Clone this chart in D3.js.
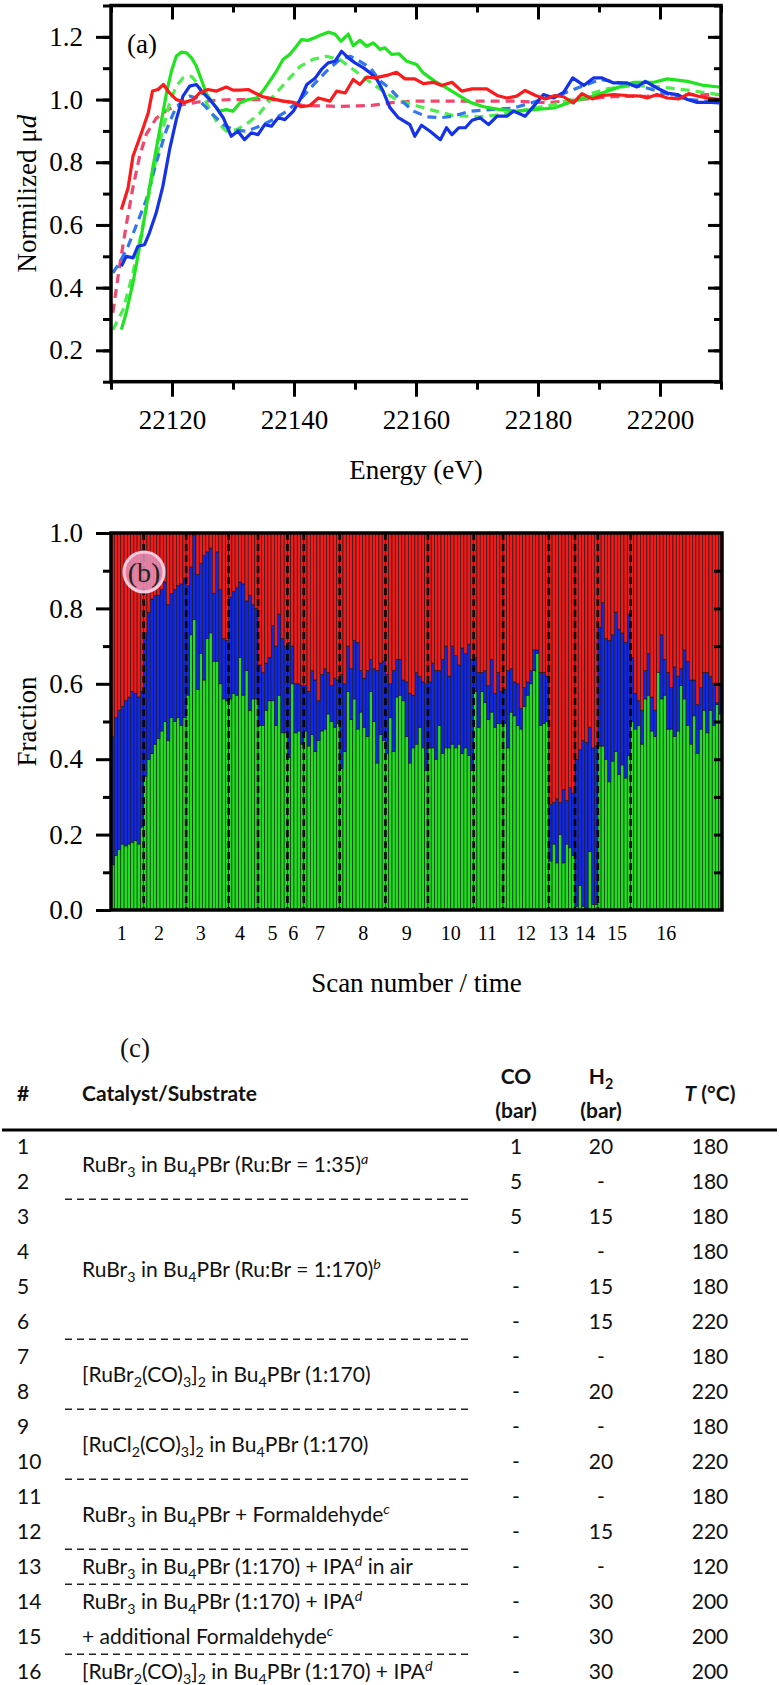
<!DOCTYPE html>
<html>
<head>
<meta charset="utf-8">
<script src="https://cdn.jsdelivr.net/npm/d3@7"></script>
<style>
  body { margin: 0; background: #fff; }
  svg { display: block; }
</style>
</head>
<body>
<div id="fig"></div>
<script>
// ---------- panel (a): normalised XANES, [energy eV, mu d]
const redDash = [[22110.3,0.32],[22111.4,0.468],[22112.5,0.6],[22113.6,0.72],[22114.7,0.82],[22115.8,0.89],[22117.4,0.94],[22119.1,0.965],[22120.7,0.98],[22122.9,0.987],[22124.5,0.993],[22127.3,0.998],[22130.0,1.0],[22133.3,1.0],[22136.6,1.0],[22139.0,0.993],[22141.5,0.981],[22144.5,0.98],[22147.5,0.978],[22150.5,0.98],[22153.0,0.982],[22156.0,0.99],[22159.6,0.995],[22165.0,0.995],[22170.0,0.995],[22176.0,0.995],[22181.5,0.99],[22186.9,1.0],[22192.4,1.009],[22197.9,1.011],[22203.4,1.016],[22209.7,1.016]];
const greenDash = [[22110.3,0.266],[22112.0,0.33],[22113.6,0.447],[22115.2,0.596],[22116.9,0.766],[22118.5,0.904],[22119.6,0.989],[22120.7,1.043],[22121.8,1.069],[22123.2,1.074],[22124.3,1.048],[22125.1,1.011],[22126.2,0.968],[22127.3,0.931],[22128.9,0.899],[22130.6,0.904],[22132.5,0.926],[22134.4,0.957],[22136.6,1.011],[22138.8,1.058],[22141.0,1.106],[22143.1,1.128],[22145.3,1.138],[22147.5,1.128],[22149.7,1.096],[22151.9,1.064],[22154.6,1.027],[22156.8,1.0],[22158.5,0.989],[22162.3,0.968],[22166.1,0.949],[22170.5,0.945],[22173.8,0.952],[22178.2,0.968],[22182.6,0.984],[22186.9,1.009],[22191.3,1.034],[22195.7,1.045],[22200.1,1.04],[22204.5,1.03],[22209.7,1.016]];
const blueDash = [[22110.3,0.447],[22111.4,0.479],[22112.8,0.532],[22114.1,0.596],[22115.8,0.681],[22117.4,0.798],[22119.1,0.904],[22120.5,0.968],[22121.8,1.0],[22122.9,1.011],[22124.0,1.005],[22125.4,0.979],[22126.7,0.952],[22128.4,0.92],[22130.0,0.904],[22132.2,0.899],[22134.4,0.915],[22136.6,0.936],[22138.8,0.963],[22141.0,1.0],[22143.1,1.045],[22145.3,1.09],[22147.5,1.128],[22149.2,1.138],[22150.8,1.122],[22152.5,1.101],[22154.1,1.06],[22155.7,1.035],[22157.4,1.0],[22159.6,0.963],[22161.8,0.945],[22164.0,0.942],[22166.1,0.947],[22168.9,0.963],[22172.2,0.968],[22176.0,0.973],[22179.8,0.995],[22183.7,1.016],[22186.9,1.04],[22190.2,1.064],[22193.5,1.053],[22197.3,1.04],[22200.6,1.021],[22204.5,1.0],[22207.7,0.995],[22209.7,0.995]];
const greenSolid = [[22111.7,0.266],[22112.5,0.32],[22113.6,0.415],[22114.7,0.532],[22115.8,0.66],[22116.9,0.787],[22118.0,0.904],[22119.1,1.021],[22119.9,1.09],[22120.7,1.138],[22121.5,1.151],[22122.4,1.149],[22123.2,1.133],[22124.0,1.106],[22124.8,1.064],[22125.7,1.016],[22126.7,0.989],[22127.8,0.963],[22128.9,0.968],[22130.0,0.963],[22131.1,0.989],[22132.5,1.0],[22133.9,1.005],[22134.9,1.027],[22136.0,1.058],[22137.1,1.09],[22138.2,1.128],[22139.3,1.144],[22140.4,1.17],[22141.2,1.191],[22142.3,1.189],[22143.4,1.197],[22144.5,1.207],[22145.6,1.215],[22146.7,1.209],[22147.7,1.186],[22148.9,1.209],[22149.7,1.172],[22150.8,1.189],[22151.9,1.17],[22153.0,1.181],[22154.1,1.16],[22154.9,1.165],[22156.0,1.144],[22157.2,1.146],[22158.5,1.122],[22160.1,1.112],[22161.2,1.085],[22163.1,1.058],[22165.0,1.037],[22167.2,1.011],[22168.9,0.991],[22171.1,0.977],[22173.8,0.968],[22176.5,0.963],[22179.3,0.968],[22182.6,0.973],[22185.8,0.995],[22189.1,1.011],[22192.4,1.034],[22195.7,1.055],[22199.0,1.055],[22201.2,1.066],[22204.5,1.058],[22207.2,1.045],[22209.7,1.04]];
const blueSolid = [[22111.7,0.468],[22112.5,0.5],[22113.6,0.495],[22114.4,0.532],[22115.5,0.537],[22116.3,0.575],[22117.4,0.638],[22118.5,0.723],[22119.6,0.84],[22120.7,0.936],[22121.8,1.011],[22122.9,1.043],[22124.0,1.048],[22125.1,1.021],[22126.2,1.0],[22127.3,0.973],[22128.4,0.942],[22129.7,0.883],[22130.8,0.899],[22131.9,0.872],[22133.0,0.894],[22134.1,0.888],[22135.2,0.92],[22136.3,0.915],[22137.4,0.942],[22138.5,0.936],[22139.9,0.963],[22141.0,1.0],[22142.1,1.048],[22143.5,1.069],[22144.5,1.096],[22145.6,1.117],[22146.7,1.122],[22147.8,1.154],[22148.9,1.133],[22150.0,1.117],[22151.4,1.101],[22152.5,1.085],[22153.6,1.064],[22154.6,1.027],[22155.7,0.975],[22157.1,0.942],[22159.0,0.92],[22159.8,0.883],[22160.9,0.918],[22162.3,0.899],[22164.0,0.872],[22165.0,0.91],[22165.9,0.888],[22167.0,0.91],[22168.1,0.91],[22169.2,0.934],[22170.5,0.942],[22171.9,0.92],[22173.3,0.947],[22174.9,0.947],[22176.0,0.963],[22177.9,0.947],[22179.3,0.979],[22180.9,1.016],[22182.6,1.005],[22184.2,1.023],[22185.7,1.069],[22187.5,1.045],[22189.1,1.069],[22190.5,1.069],[22192.4,1.053],[22194.6,1.053],[22196.2,1.04],[22197.6,1.058],[22199.5,1.037],[22201.2,1.021],[22202.8,1.016],[22204.5,1.0],[22206.1,0.991],[22208.3,0.991],[22209.7,0.989]];
const redSolid = [[22111.7,0.649],[22112.8,0.718],[22113.6,0.819],[22115.0,0.894],[22116.1,0.957],[22116.8,1.027],[22117.7,1.032],[22118.6,1.048],[22119.6,1.021],[22120.7,1.0],[22122.1,0.991],[22123.5,1.0],[22124.5,1.021],[22125.9,1.032],[22127.3,1.027],[22128.9,1.04],[22130.0,1.03],[22131.1,1.03],[22132.5,1.032],[22133.6,1.021],[22134.9,1.009],[22136.6,1.002],[22138.2,0.995],[22139.9,0.991],[22141.2,0.977],[22142.6,0.981],[22144.0,1.005],[22145.9,0.995],[22147.0,1.027],[22148.4,1.021],[22149.7,1.064],[22150.8,1.048],[22151.9,1.072],[22153.3,1.069],[22155.2,1.077],[22156.8,1.087],[22158.2,1.066],[22159.8,1.066],[22161.2,1.051],[22162.9,1.055],[22164.2,1.045],[22165.9,1.055],[22167.5,1.027],[22169.2,1.034],[22171.6,1.034],[22173.3,1.013],[22174.9,1.005],[22176.5,1.011],[22177.9,1.029],[22179.6,1.013],[22181.2,1.002],[22182.8,1.013],[22184.2,1.009],[22185.8,0.989],[22187.2,1.019],[22188.9,1.002],[22190.5,1.013],[22192.4,1.016],[22194.6,1.013],[22196.8,1.011],[22197.9,1.005],[22199.5,1.016],[22201.2,1.005],[22203.1,1.002],[22204.7,1.019],[22206.6,1.009],[22209.7,1.0]];

const energyTicks = [22120, 22140, 22160, 22180, 22200];
const muTicks = [0.2, 0.4, 0.6, 0.8, 1.0, 1.2];

// ---------- panel (b): fractions per scan (green bottom, blue middle, red rest)
const scanBars = [10, 13, 13, 9, 9, 5, 11, 14, 13, 14, 9, 14, 8, 7, 10, 28];
const scanTickAt = [3.3, 14.7, 27.5, 39.5, 49.4, 55.8, 64, 77.2, 90.5, 104, 115.2, 127, 136.9, 145.1, 154.9, 169.9];
const green = [
  0.12, 0.145, 0.16, 0.175, 0.17, 0.175, 0.18, 0.185, 0.175, 0.22,
  0.355, 0.40, 0.415, 0.44, 0.455, 0.475, 0.50, 0.45, 0.51, 0.50, 0.51, 0.49, 0.51,
  0.57, 0.73, 0.77, 0.585, 0.68, 0.61, 0.72, 0.735, 0.66, 0.66, 0.60, 0.56, 0.555,
  0.56, 0.575, 0.57, 0.67, 0.57, 0.635, 0.53, 0.56, 0.56,
  0.49, 0.49, 0.53, 0.555, 0.555, 0.49, 0.57, 0.47, 0.47,
  0.405, 0.60, 0.47, 0.475, 0.44,
  0.475, 0.435, 0.465, 0.42, 0.45, 0.475, 0.48, 0.52, 0.50, 0.485, 0.495,
  0.375, 0.42, 0.58, 0.505, 0.56, 0.48, 0.525, 0.485, 0.46, 0.58, 0.50, 0.39, 0.465, 0.45,
  0.415, 0.51, 0.42, 0.565, 0.57, 0.555, 0.46, 0.39, 0.43, 0.44, 0.485, 0.43, 0.37,
  0.43, 0.43, 0.40, 0.49, 0.415, 0.43, 0.43, 0.44, 0.43, 0.44, 0.415, 0.43, 0.41, 0.37,
  0.58, 0.485, 0.58, 0.55, 0.505, 0.525, 0.485, 0.495, 0.495,
  0.495, 0.43, 0.525, 0.515, 0.49, 0.48, 0.54, 0.57, 0.60, 0.635, 0.68, 0.49, 0.495, 0.50,
  0.13, 0.175, 0.125, 0.2, 0.125, 0.175, 0.165, 0.145,
  0.01, 0.065, 0.01, 0.005, 0.155, 0.015, 0.015,
  0.435, 0.435, 0.40, 0.34, 0.395, 0.42, 0.36, 0.385, 0.35, 0.41,
  0.50, 0.48, 0.49, 0.44, 0.56, 0.57, 0.475, 0.46, 0.64, 0.56, 0.57, 0.48, 0.48, 0.46,
  0.475, 0.595, 0.56, 0.49, 0.44, 0.515, 0.415, 0.48, 0.53, 0.47, 0.53, 0.49, 0.545, 0.52
];
// top of the blue band (green + blue)
const blueTop = [
  0.46, 0.51, 0.53, 0.54, 0.555, 0.565, 0.58, 0.575, 0.565, 0.58,
  0.735, 0.79, 0.825, 0.835, 0.835, 0.85, 0.87, 0.81, 0.84, 0.85, 0.86, 0.865, 0.88,
  0.86, 0.91, 0.995, 0.89, 0.92, 0.94, 0.95, 0.96, 0.84, 0.95, 0.85, 0.72, 0.715,
  0.83, 0.845, 0.855, 0.87, 0.865, 0.82, 0.835, 0.81, 0.80,
  0.65, 0.63, 0.655, 0.67, 0.755, 0.70, 0.785, 0.72, 0.70,
  0.71, 0.70, 0.60, 0.60, 0.595,
  0.595, 0.58, 0.635, 0.61, 0.555, 0.625, 0.64, 0.63, 0.595, 0.615, 0.61,
  0.625, 0.60, 0.70, 0.64, 0.715, 0.71, 0.635, 0.615, 0.635, 0.665, 0.64, 0.635, 0.655, 0.66,
  0.625, 0.60, 0.635, 0.665, 0.665, 0.61, 0.605, 0.575, 0.57, 0.63, 0.62, 0.605, 0.60,
  0.605, 0.655, 0.635, 0.635, 0.665, 0.70, 0.62, 0.70, 0.675, 0.65, 0.695, 0.68, 0.705, 0.665,
  0.67, 0.63, 0.63, 0.635, 0.595, 0.665, 0.575, 0.63, 0.58,
  0.585, 0.635, 0.64, 0.605, 0.60, 0.535, 0.59, 0.605, 0.635, 0.69, 0.69, 0.63, 0.63, 0.62,
  0.28, 0.285, 0.295, 0.285, 0.32, 0.29, 0.325, 0.31,
  0.40, 0.425, 0.45, 0.445, 0.485, 0.43, 0.435,
  0.75, 0.815, 0.72, 0.715, 0.73, 0.79, 0.745, 0.735, 0.71, 0.785,
  0.67, 0.575, 0.555, 0.53, 0.635, 0.68, 0.565, 0.53, 0.63, 0.73, 0.665, 0.63, 0.59, 0.645,
  0.62, 0.64, 0.69, 0.66, 0.61, 0.61, 0.545, 0.59, 0.63, 0.63, 0.62, 0.60, 0.55, 0.60
];
const fracTicks = [0, 0.2, 0.4, 0.6, 0.8, 1.0];

// ---------- panel (c): table
const runNo = d3.range(1, 17);
const coBar = ["1", "5", "5", "-", "-", "-", "-", "-", "-", "-", "-", "-", "-", "-", "-", "-"];
const h2Bar = ["20", "-", "15", "-", "15", "15", "-", "20", "-", "20", "-", "15", "-", "30", "30", "30"];
const tempC = ["180", "180", "180", "180", "180", "220", "180", "220", "180", "220", "180", "220", "120", "200", "200", "200"];
const catalysts = [
  {text: "RuBr_3 in Bu_4PBr (Ru:Br = 1:35)^a", from: 1, to: 2},
  {text: "RuBr_3 in Bu_4PBr (Ru:Br = 1:170)^b", from: 3, to: 6},
  {text: "[RuBr_2(CO)_3]_2 in Bu_4PBr (1:170)", from: 7, to: 8},
  {text: "[RuCl_2(CO)_3]_2 in Bu_4PBr (1:170)", from: 9, to: 10},
  {text: "RuBr_3 in Bu_4PBr + Formaldehyde^c", from: 11, to: 12},
  {text: "RuBr_3 in Bu_4PBr (1:170) + IPA^d in air", from: 13, to: 13},
  {text: "RuBr_3 in Bu_4PBr (1:170) + IPA^d", from: 14, to: 14},
  {text: "+ additional Formaldehyde^c", from: 15, to: 15},
  {text: "[RuBr_2(CO)_3]_2 in Bu_4PBr (1:170) + IPA^d", from: 16, to: 16}
];
const dividerAfter = [2, 6, 8, 10, 12, 13, 15];

// ---------------------------------------------------------------
const width = 779, height = 1685;
const serif = "'Liberation Serif', 'Times New Roman', serif";
const sans = "Lato, 'Open Sans', sans-serif";

const svg = d3.select("#fig").append("svg")
    .attr("width", width)
    .attr("height", height);

// style an axis group: no domain, thick black ticks, serif labels
function styleAxis(g, withText) {
  g.select(".domain").remove();
  g.selectAll(".tick line").attr("stroke", "#000").attr("stroke-width", 3);
  if (withText) {
    g.attr("font-family", serif).attr("font-size", 27);
    g.selectAll(".tick text")
      .attr("font-family", serif)
      .attr("font-size", 27)
      .attr("fill", "#000");
  } else {
    g.selectAll(".tick text").remove();
  }
}

// ================= panel (a) =================
const pa = {left: 111, right: 721, top: 5.5, bottom: 381.7};
const xA = d3.scaleLinear().domain([22110, 22210]).range([pa.left, pa.right]);
const yA = d3.scaleLinear().domain([0.1, 1.3]).range([pa.bottom, pa.top]);

const gA = svg.append("g");

let lineA = d3.line()
    .x(d => xA(d[0]))
    .y(d => yA(d[1]));

const curves = [
  {data: redDash, color: "#f2466e", dash: "9,6"},
  {data: greenDash, color: "#4ced4c", dash: "9,6"},
  {data: blueDash, color: "#3277ee", dash: "9,6"},
  {data: greenSolid, color: "#1fe41f", dash: null},
  {data: blueSolid, color: "#1432e8", dash: null},
  {data: redSolid, color: "#fa1c1c", dash: null}
];

gA.selectAll("path.curve")
  .data(curves)
  .enter()
  .append("path")
    .attr("class", "curve")
    .attr("d", d => lineA(d.data))
    .attr("fill", "none")
    .attr("stroke", d => d.color)
    .attr("stroke-width", 3.2)
    .attr("stroke-linejoin", "round")
    .attr("stroke-dasharray", d => d.dash);

// ticks: bottom (outward), top (inward), left (outward), right (inward)
const minorE = d3.range(22110, 22211, 10);
const minorMu = d3.range(1, 14).map(v => v / 10);

gA.append("g").attr("transform", `translate(0,${pa.bottom})`)
  .call(d3.axisBottom(xA).tickValues(minorE).tickSize(8).tickFormat(""))
  .call(g => styleAxis(g, false));
gA.append("g").attr("transform", `translate(0,${pa.bottom})`)
  .call(d3.axisBottom(xA).tickValues(energyTicks).tickSize(15).tickPadding(13).tickFormat(d3.format("d")))
  .call(g => styleAxis(g, true));
gA.append("g").attr("transform", `translate(0,${pa.top})`)
  .call(d3.axisTop(xA).tickValues(minorE).tickSize(-7).tickFormat(""))
  .call(g => styleAxis(g, false));
gA.append("g").attr("transform", `translate(0,${pa.top})`)
  .call(d3.axisTop(xA).tickValues(energyTicks).tickSize(-14).tickFormat(""))
  .call(g => styleAxis(g, false));

gA.append("g").attr("transform", `translate(${pa.left},0)`)
  .call(d3.axisLeft(yA).tickValues(minorMu).tickSize(8).tickFormat(""))
  .call(g => styleAxis(g, false));
gA.append("g").attr("transform", `translate(${pa.left},0)`)
  .call(d3.axisLeft(yA).tickValues(muTicks).tickSize(15).tickPadding(13).tickFormat(d3.format(".1f")))
  .call(g => styleAxis(g, true));
gA.append("g").attr("transform", `translate(${pa.right},0)`)
  .call(d3.axisRight(yA).tickValues(minorMu).tickSize(-7).tickFormat(""))
  .call(g => styleAxis(g, false));
gA.append("g").attr("transform", `translate(${pa.right},0)`)
  .call(d3.axisRight(yA).tickValues(muTicks).tickSize(-13).tickFormat(""))
  .call(g => styleAxis(g, false));

gA.append("rect")
  .attr("x", pa.left).attr("y", pa.top)
  .attr("width", pa.right - pa.left).attr("height", pa.bottom - pa.top)
  .attr("fill", "none").attr("stroke", "#000").attr("stroke-width", 3.5);

gA.append("text")
  .attr("x", 127).attr("y", 53)
  .attr("font-family", serif).attr("font-size", 27)
  .text("(a)");

gA.append("text")
  .attr("x", (pa.left + pa.right) / 2).attr("y", 479)
  .attr("text-anchor", "middle")
  .attr("font-family", serif).attr("font-size", 27)
  .text("Energy (eV)");

let yLab = gA.append("text")
  .attr("transform", `translate(36,${(pa.top + pa.bottom) / 2}) rotate(-90)`)
  .attr("text-anchor", "middle")
  .attr("font-family", serif).attr("font-size", 27);
yLab.append("tspan").text("Normilized μ");
yLab.append("tspan").attr("font-style", "italic").text("d");

// ================= panel (b) =================
const pb = {left: 111, right: 722, top: 533, bottom: 910};
const nBars = d3.sum(scanBars);
const xB = d3.scaleLinear().domain([0, nBars]).range([pb.left, pb.right]);
const yB = d3.scaleLinear().domain([0, 1]).range([pb.bottom, pb.top]);

const rowsB = green.map((g, i) => ({green: g, blue: blueTop[i] - g, red: 1 - blueTop[i]}));
const layers = d3.stack().keys(["green", "blue", "red"])(rowsB);
const fill = {green: "#1fe01f", blue: "#1228e4", red: "#f21a1a"};

const gB = svg.append("g");

gB.selectAll("g.layer")
  .data(layers)
  .enter()
  .append("g")
    .attr("class", "layer")
    .attr("fill", d => fill[d.key])
  .selectAll("rect")
  .data(d => d)
  .enter()
  .append("rect")
    .attr("x", (d, i) => xB(i))
    .attr("width", (d, i) => xB(i + 1) - xB(i))
    .attr("y", d => yB(d[1]))
    .attr("height", d => yB(d[0]) - yB(d[1]))
    .attr("stroke", "#151515")
    .attr("stroke-width", 0.6);

// scan boundaries
const bounds = d3.cumsum(scanBars).slice(0, -1);
gB.selectAll("line.scan")
  .data(bounds)
  .enter()
  .append("line")
    .attr("class", "scan")
    .attr("x1", d => xB(d)).attr("x2", d => xB(d))
    .attr("y1", pb.top).attr("y2", pb.bottom)
    .attr("stroke", "#000")
    .attr("stroke-width", 2.6)
    .attr("stroke-dasharray", "7,4");

const minorF = d3.range(1, 10, 2).map(v => v / 10);
gB.append("g").attr("transform", `translate(${pb.left},0)`)
  .call(d3.axisLeft(yB).tickValues(minorF).tickSize(8).tickFormat(""))
  .call(g => styleAxis(g, false));
gB.append("g").attr("transform", `translate(${pb.left},0)`)
  .call(d3.axisLeft(yB).tickValues(fracTicks).tickSize(15).tickPadding(13).tickFormat(d3.format(".1f")))
  .call(g => styleAxis(g, true));
gB.append("g").attr("transform", `translate(${pb.right},0)`)
  .call(d3.axisRight(yB).tickValues(d3.range(1, 10).map(v => v / 10)).tickSize(-8).tickFormat(""))
  .call(g => styleAxis(g, false));

gB.append("rect")
  .attr("x", pb.left).attr("y", pb.top)
  .attr("width", pb.right - pb.left).attr("height", pb.bottom - pb.top)
  .attr("fill", "none").attr("stroke", "#000").attr("stroke-width", 3.5);

// scan number labels (no tick marks)
gB.selectAll("text.scan")
  .data(scanTickAt)
  .enter()
  .append("text")
    .attr("class", "scan")
    .attr("x", d => xB(d))
    .attr("y", 940)
    .attr("text-anchor", "middle")
    .attr("font-family", serif).attr("font-size", 20)
    .text((d, i) => i + 1);

gB.append("text")
  .attr("x", (pb.left + pb.right) / 2).attr("y", 992)
  .attr("text-anchor", "middle")
  .attr("font-family", serif).attr("font-size", 27)
  .text("Scan number / time");

gB.append("text")
  .attr("transform", `translate(36,${(pb.top + pb.bottom) / 2}) rotate(-90)`)
  .attr("text-anchor", "middle")
  .attr("font-family", serif).attr("font-size", 27)
  .text("Fraction");

// (b) badge
gB.append("circle")
  .attr("cx", 144).attr("cy", 572).attr("r", 20)
  .attr("fill", "#e999c1").attr("fill-opacity", 0.82)
  .attr("stroke", "#f4c9dd").attr("stroke-width", 3);
gB.append("text")
  .attr("x", 144).attr("y", 582)
  .attr("text-anchor", "middle")
  .attr("font-family", serif).attr("font-size", 28)
  .attr("fill", "#222")
  .text("(b)");

// ================= panel (c) =================
const gC = svg.append("g").attr("font-family", sans).attr("fill", "#111");
const rowY = n => 1146.7 + (n - 1) * 35;   // row centre
const colX = {num: 17, cat: 82, co: 516, h2: 601, t: 710};
const fs = 21;

// text with _x subscripts and ^x italic superscripts
function richText(sel, str) {
  const parts = str.split(/([_^].)/).filter(s => s.length);
  let shift = 0;
  parts.forEach(p => {
    let target = 0, t = p, small = false, ital = false;
    if (p[0] === "_") { target = 5; t = p[1]; small = true; }
    else if (p[0] === "^") { target = -8; t = p[1]; small = true; ital = true; }
    const ts = sel.append("tspan").attr("dy", target - shift).text(t);
    if (small) ts.attr("font-size", "0.68em");
    if (ital) ts.attr("font-style", "italic");
    shift = target;
  });
}

gC.append("text")
  .attr("x", 135).attr("y", 1057)
  .attr("text-anchor", "middle")
  .attr("font-family", serif).attr("font-size", 27)
  .text("(c)");

const head = gC.append("g").attr("font-weight", "bold").attr("font-size", fs);
head.append("text").attr("x", colX.num).attr("y", 1101).text("#");
head.append("text").attr("x", colX.cat).attr("y", 1101).text("Catalyst/Substrate");
head.append("text").attr("x", colX.co).attr("y", 1084).attr("text-anchor", "middle").text("CO");
head.append("text").attr("x", colX.co).attr("y", 1118).attr("text-anchor", "middle").text("(bar)");
richText(head.append("text").attr("x", colX.h2).attr("y", 1084).attr("text-anchor", "middle"), "H_2");
head.append("text").attr("x", colX.h2).attr("y", 1118).attr("text-anchor", "middle").text("(bar)");
const tHead = head.append("text").attr("x", colX.t).attr("y", 1101).attr("text-anchor", "middle");
tHead.append("tspan").attr("font-style", "italic").text("T");
tHead.append("tspan").text(" (°C)");

gC.append("line")
  .attr("x1", 2).attr("x2", 777)
  .attr("y1", 1130).attr("y2", 1130)
  .attr("stroke", "#000").attr("stroke-width", 3);

const body = gC.append("g").attr("font-size", fs);
runNo.forEach((n, i) => {
  const y = rowY(n) + 7.5;
  body.append("text").attr("x", colX.num).attr("y", y).text(n);
  body.append("text").attr("x", colX.co).attr("y", y).attr("text-anchor", "middle").text(coBar[i]);
  body.append("text").attr("x", colX.h2).attr("y", y).attr("text-anchor", "middle").text(h2Bar[i]);
  body.append("text").attr("x", colX.t).attr("y", y).attr("text-anchor", "middle").text(tempC[i]);
});

catalysts.forEach(c => {
  const y = (rowY(c.from) + rowY(c.to)) / 2 + 7.5;
  richText(body.append("text").attr("x", colX.cat).attr("y", y), c.text);
});

gC.selectAll("line.div")
  .data(dividerAfter)
  .enter()
  .append("line")
    .attr("class", "div")
    .attr("x1", 65).attr("x2", 472)
    .attr("y1", d => (rowY(d) + rowY(d + 1)) / 2)
    .attr("y2", d => (rowY(d) + rowY(d + 1)) / 2)
    .attr("stroke", "#222")
    .attr("stroke-width", 1.4)
    .attr("stroke-dasharray", "7,5");
</script>
</body>
</html>
